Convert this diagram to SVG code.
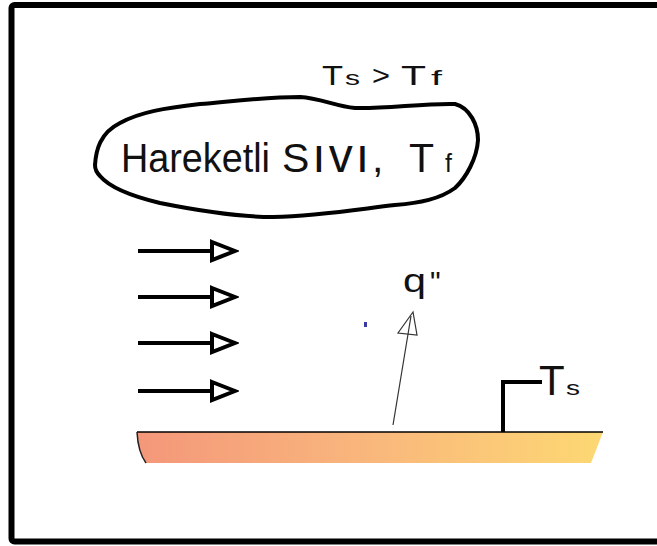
<svg xmlns="http://www.w3.org/2000/svg" width="657" height="546" viewBox="0 0 657 546">
  <style>
    text { font-family: "Liberation Sans", Arial, sans-serif; fill: #111; }
    .flow { stroke: #000; stroke-width: 4; fill: none; }
    .thin { stroke: #333; stroke-width: 1.2; fill: none; }
  </style>
  <defs>
    <linearGradient id="plateGrad" x1="0" y1="0" x2="1" y2="0">
      <stop offset="0" stop-color="#f4977a"/>
      <stop offset="0.5" stop-color="#f9b77c"/>
      <stop offset="1" stop-color="#fdd873"/>
    </linearGradient>
    <marker id="openHead" markerUnits="userSpaceOnUse" viewBox="-3 -12 30 24" markerWidth="30" markerHeight="24" refX="0" refY="0" orient="auto">
      <path d="M0,-9 L23,0 L0,9 Z" fill="#fff" stroke="#000" stroke-width="4" stroke-linejoin="miter"/>
    </marker>
  </defs>

  <rect width="657" height="546" fill="#fff"/>

  <g id="frame">
    <rect x="11.5" y="5" width="680" height="536.5" rx="3" fill="none" stroke="#000" stroke-width="6"/>
  </g>

  <g id="condition">
    <text x="322" y="85" font-size="28" textLength="21" lengthAdjust="spacingAndGlyphs">T</text>
    <text x="345" y="85" font-size="21" textLength="15" lengthAdjust="spacingAndGlyphs">s</text>
    <text x="372" y="85" font-size="28" textLength="18" lengthAdjust="spacingAndGlyphs">&gt;</text>
    <text x="401" y="85" font-size="28" textLength="25" lengthAdjust="spacingAndGlyphs">T</text>
    <text x="431" y="85" font-size="20" textLength="11" lengthAdjust="spacingAndGlyphs">f</text>
  </g>

  <g id="fluid">
    <path d="M95,165 C96,150 100,133 120,123 C140,112 165,108 200,104 C235,101 265,97 300,97 C320,98 335,106 355,108 C385,109 425,103 455,104 C470,108 478,125 478,140 C477,158 466,178 455,188 C440,199 420,203 395,205 C360,209 320,216 273,217 C235,217 195,210 160,203 C135,197 110,188 100,176 C96,172 95,168 95,165 Z" fill="#fff" stroke="#000" stroke-width="4" stroke-linejoin="round"/>
    <text x="121" y="172" font-size="41" textLength="149" lengthAdjust="spacingAndGlyphs">Hareketli</text>
    <text x="282" y="172" font-size="41" letter-spacing="3">S<tspan font-size="48">ıvı</tspan>,</text>
    <text x="409" y="172" font-size="41">T</text>
    <text x="445" y="172" font-size="25">f</text>
  </g>

  <g id="connectors">
    <line class="flow" x1="138" y1="251" x2="212" y2="251" marker-end="url(#openHead)"/>
    <line class="flow" x1="138" y1="297" x2="212" y2="297" marker-end="url(#openHead)"/>
    <line class="flow" x1="138" y1="343" x2="212" y2="343" marker-end="url(#openHead)"/>
    <line class="flow" x1="138" y1="391" x2="212" y2="391" marker-end="url(#openHead)"/>
    <line class="thin" x1="393" y1="425" x2="411" y2="316"/>
    <path class="thin" d="M413,312 L398,333 L417,335 Z" fill="#fff"/>
  </g>

  <g id="heatflux">
    <text x="403" y="292" font-size="34" textLength="23" lengthAdjust="spacingAndGlyphs">q</text>
    <text x="430" y="292" font-size="30">"</text>
  </g>

  <g id="dot">
    <rect x="364" y="322" width="3" height="5" fill="#3a3aa0"/>
  </g>

  <g id="surface">
    <path d="M137,432 L603,432 L591,463 L146,463 Q138,452 137,432 Z" fill="url(#plateGrad)"/>
    <line x1="137" y1="432" x2="603" y2="432" stroke="#000" stroke-width="1.5"/>
    <path d="M137,432 Q138,452 146,463" fill="none" stroke="#222" stroke-width="1.5"/>
    <path d="M503,432 V382 H542" fill="none" stroke="#000" stroke-width="4"/>
    <text x="539" y="395" font-size="42">T</text>
    <text x="566" y="395" font-size="21" textLength="14" lengthAdjust="spacingAndGlyphs">s</text>
  </g>
</svg>
